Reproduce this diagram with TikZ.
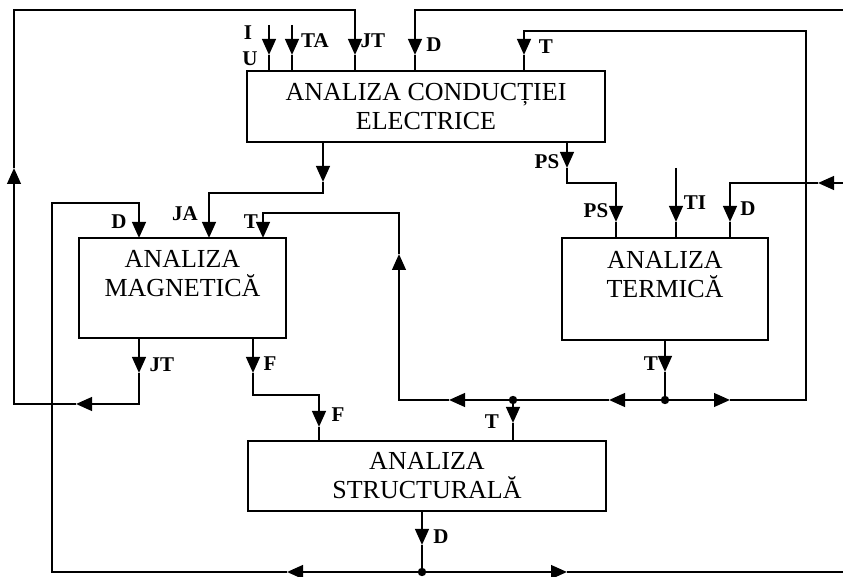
\documentclass[tikz,border=0pt]{standalone}
\usepackage{fontspec}
\setmainfont{Liberation Serif}
\usetikzlibrary{arrows.meta}
\begin{document}
\begin{tikzpicture}[x=0.5pt,y=-0.5pt,
  line width=1.2pt,
  box/.style={draw,rectangle,inner sep=0pt,align=center,font=\fontsize{13}{14.5}\selectfont},
  arr/.style={-{Triangle[width=6.8pt,length=8pt]}},
  lbl/.style={font=\bfseries\fontsize{10.5}{11}\selectfont,inner sep=0pt},
  dot/.style={circle,fill,inner sep=0pt,minimum size=4.2pt}]
\useasboundingbox (0,0) rectangle (843,577);
% boxes
\node[box,minimum width=179pt,minimum height=35.5pt] (E) at (426,106.5) {ANALIZA CONDUCȚIEI\\ELECTRICE};
\node[box,minimum width=103.5pt,minimum height=50pt] (M) at (182.5,288) {ANALIZA\\MAGNETICĂ\\\mbox{}};
\node[box,minimum width=103pt,minimum height=51pt] (Th) at (665,289) {ANALIZA\\TERMICĂ\\\mbox{}};
\node[box,minimum width=179pt,minimum height=35pt] (S) at (427,476) {ANALIZA\\STRUCTURALĂ};
% junction dots
\node[dot] (sJ) at (513,400) {};
\node[dot] (tJ) at (665,400) {};
\node[dot] (dJ) at (422,572) {};
% coordinates
\coordinate (mJT) at (139,338); \coordinate (mJTa) at (139,373); \coordinate (jtC) at (139,404);
\coordinate (jtArr) at (76,404); \coordinate (jtL) at (14,404); \coordinate (jtUp) at (14,168);
\coordinate (jtTL) at (14,10); \coordinate (jtTR) at (355,10); \coordinate (eJTa) at (355,55); \coordinate (eJT) at (355,71);
\coordinate (sD) at (422,511); \coordinate (sDa) at (422,545);
\coordinate (dLa) at (287,572); \coordinate (dBL) at (52,572); \coordinate (dTL) at (52,203);
\coordinate (dTR) at (139,203); \coordinate (mD) at (139,238);
\coordinate (dRa) at (567,572); \coordinate (dBR) at (843,572);
\coordinate (dTopR) at (843,10); \coordinate (dTopL) at (415,10); \coordinate (eDa) at (415,55); \coordinate (eD) at (415,71);
\coordinate (dThR) at (843,183); \coordinate (dThA) at (818,183); \coordinate (dThL) at (730,183);
\coordinate (thDa) at (730,222); \coordinate (thD) at (730,238);
\coordinate (eO) at (323,142); \coordinate (eOa) at (323,182); \coordinate (eOb) at (323,193);
\coordinate (jaT) at (209,193); \coordinate (mJA) at (209,238);
\coordinate (ePS) at (567,142); \coordinate (ePSa) at (567,168); \coordinate (psB) at (567,183);
\coordinate (psR) at (616,183); \coordinate (thPSa) at (616,222); \coordinate (thPS) at (616,238);
\coordinate (iTop) at (269,25); \coordinate (iA) at (269,55); \coordinate (eI) at (269,71);
\coordinate (taTop) at (292,25); \coordinate (taA) at (292,55); \coordinate (eTA) at (292,71);
\coordinate (tiTop) at (676,168); \coordinate (tiA) at (676,222); \coordinate (thTI) at (676,238);
\coordinate (thT) at (665,340); \coordinate (thTa) at (665,372);
\coordinate (tLa1) at (609,400); \coordinate (tLa2) at (449,400); \coordinate (tL) at (399,400);
\coordinate (tUp) at (399,254); \coordinate (tTL) at (399,213); \coordinate (tTR) at (263,213); \coordinate (mT) at (263,238);
\coordinate (tRa) at (730,400); \coordinate (tR) at (806,400); \coordinate (tRT) at (806,31);
\coordinate (tTopL) at (524,31); \coordinate (eTa) at (524,55); \coordinate (eT) at (524,71);
\coordinate (sTa) at (513,423); \coordinate (sT) at (513,441);
\coordinate (mF) at (253,338); \coordinate (mFa) at (253,373); \coordinate (fB) at (253,395);
\coordinate (fR) at (319,395); \coordinate (sFa) at (319,427); \coordinate (sF) at (319,441);
% JT loop
\draw[arr] (mJT) -- (mJTa);
\draw[arr] (mJTa) -- (jtC) -- (jtArr);
\draw[arr] (jtArr) -- (jtL) -- (jtUp);
\draw[arr] (jtUp) -- (jtTL) -- (jtTR) -- (eJTa);
\draw (eJTa) -- (eJT);
% D loop
\draw[arr] (sD) -- (sDa);
\draw (sDa) -- (dJ.center);
\draw[arr] (dJ.center) -- (dLa);
\draw[arr] (dLa) -- (dBL) -- (dTL) -- (dTR) -- (mD);
\draw[arr] (dJ.center) -- (dRa);
\draw (dRa) -- (dBR);
\draw[arr] (dTopR) -- (dTopL) -- (eDa);
\draw (eDa) -- (eD);
\draw[arr] (dThR) -- (dThA);
\draw[arr] (dThA) -- (dThL) -- (thDa);
\draw (thDa) -- (thD);
% electrical outputs
\draw[arr] (eO) -- (eOa);
\draw[arr] (eOa) -- (eOb) -- (jaT) -- (mJA);
\draw[arr] (ePS) -- (ePSa);
\draw[arr] (ePSa) -- (psB) -- (psR) -- (thPSa);
\draw (thPSa) -- (thPS);
% inputs
\draw[arr] (iTop) -- (iA); \draw (iA) -- (eI);
\draw[arr] (taTop) -- (taA); \draw (taA) -- (eTA);
\draw[arr] (tiTop) -- (tiA); \draw (tiA) -- (thTI);
% T loop
\draw[arr] (thT) -- (thTa);
\draw (thTa) -- (tJ.center);
\draw[arr] (tJ.center) -- (tLa1);
\draw[arr] (tLa1) -- (tLa2);
\draw[arr] (tLa2) -- (tL) -- (tUp);
\draw[arr] (tUp) -- (tTL) -- (tTR) -- (mT);
\draw[arr] (tJ.center) -- (tRa);
\draw[arr] (tRa) -- (tR) -- (tRT) -- (tTopL) -- (eTa);
\draw (eTa) -- (eT);
\draw[arr] (sJ.center) -- (sTa);
\draw (sTa) -- (sT);
% F
\draw[arr] (mF) -- (mFa);
\draw[arr] (mFa) -- (fB) -- (fR) -- (sFa);
\draw (sFa) -- (sF);
% labels
\node[lbl] (lI) at (248,33) {I};
\node[lbl] (lU) at (250,59) {U};
\node[lbl] (lTA) at (315,41) {TA};
\node[lbl] (lJT) at (373,41) {JT};
\node[lbl] (lD1) at (434,45) {D};
\node[lbl] (lT1) at (546,47) {T};
\node[lbl] (lPS1) at (547,162) {PS};
\node[lbl] (lPS2) at (596,211) {PS};
\node[lbl] (lTI) at (695,203) {TI};
\node[lbl] (lD2) at (748,209) {D};
\node[lbl] (lD3) at (119,222) {D};
\node[lbl] (lJA) at (185,214) {JA};
\node[lbl] (lT2) at (251,222) {T};
\node[lbl] (lJT2) at (162,365) {JT};
\node[lbl] (lF1) at (270,364) {F};
\node[lbl] (lF2) at (338,415) {F};
\node[lbl] (lT3) at (492,422) {T};
\node[lbl] (lD4) at (441,537) {D};
\node[lbl] (lT4) at (651,364) {T};
\end{tikzpicture}
\end{document}
